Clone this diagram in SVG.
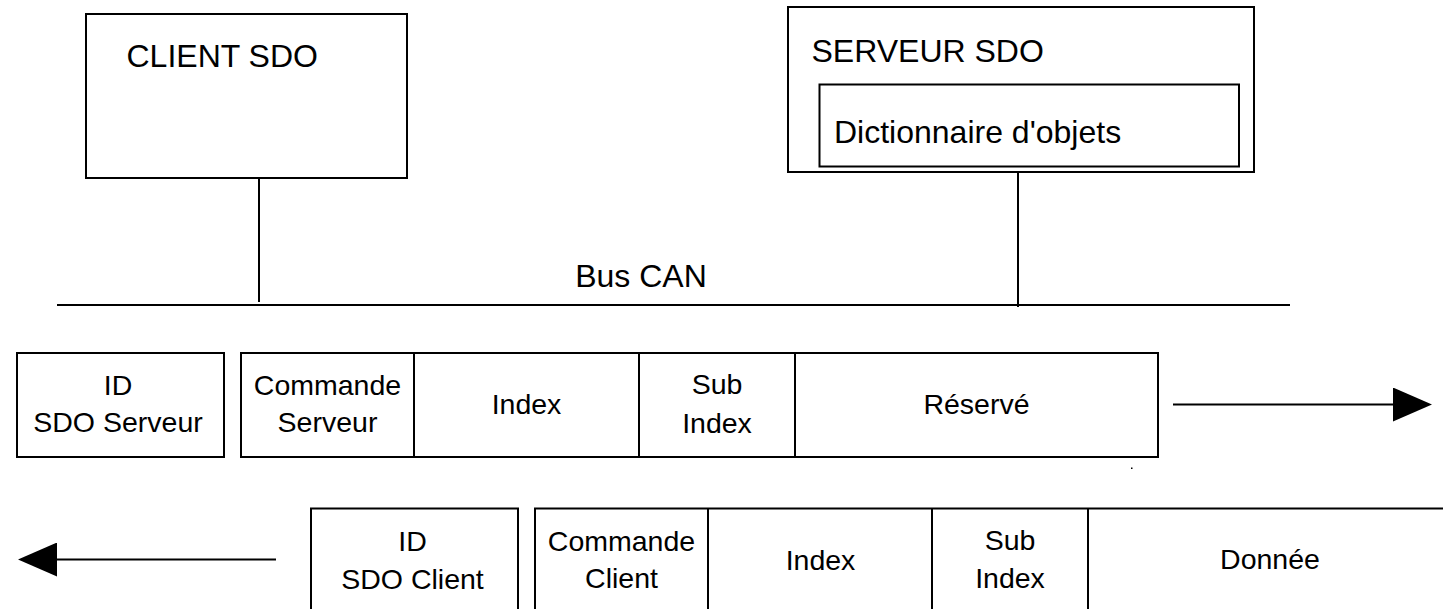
<svg xmlns="http://www.w3.org/2000/svg" width="1443" height="609" viewBox="0 0 1443 609">
  <style>
    .box { fill: #ffffff; stroke: #000000; stroke-width: 2; }
    .wire { fill: none; stroke: #000000; stroke-width: 2; }
    .title { font-family: "Liberation Sans", Arial, sans-serif; font-size: 32px; fill: #000000; }
    .field { font-family: "Liberation Sans", Arial, sans-serif; font-size: 28.5px; fill: #000000; text-anchor: middle; }
  </style>
  <defs>
    <marker id="arrowhead" viewBox="0 0 39 34" markerWidth="39" markerHeight="34" refX="0" refY="17" orient="auto" markerUnits="userSpaceOnUse">
      <path d="M0,0 L39,17 L0,34 Z" fill="#000000"/>
    </marker>
  </defs>
  <rect x="0" y="0" width="1443" height="609" fill="#ffffff"/>

  <!-- SDO client node -->
  <g id="client-sdo">
    <rect class="box" x="86" y="14" width="321" height="164"/>
    <text class="title" x="126.5" y="67">CLIENT SDO</text>
  </g>

  <!-- SDO server node with its object dictionary -->
  <g id="serveur-sdo">
    <rect class="box" x="788" y="7" width="466" height="165"/>
    <text class="title" x="811.5" y="62">SERVEUR SDO</text>
    <g id="dictionnaire">
      <rect class="box" x="819.5" y="84.5" width="419.5" height="82"/>
      <text class="title" x="834" y="143">Dictionnaire d'objets</text>
    </g>
  </g>

  <!-- CAN bus -->
  <g id="bus-can">
    <line class="wire" x1="57" y1="305" x2="1290" y2="305"/>
    <text class="title" x="641" y="287" text-anchor="middle">Bus CAN</text>
  </g>

  <!-- Request frame: server ID then data field -->
  <g id="trame-serveur">
    <g id="id-serveur">
      <rect class="box" x="17" y="353" width="207" height="104"/>
      <text class="field" x="118" y="395">ID</text>
      <text class="field" x="118" y="432">SDO Serveur</text>
    </g>
    <g id="donnees-serveur">
      <rect class="box" x="241" y="353" width="917" height="104"/>
      <line class="wire" x1="414" y1="353" x2="414" y2="457"/>
      <line class="wire" x1="639" y1="353" x2="639" y2="457"/>
      <line class="wire" x1="795" y1="353" x2="795" y2="457"/>
      <text class="field" x="327.5" y="395">Commande</text>
      <text class="field" x="327.5" y="432">Serveur</text>
      <text class="field" x="526.5" y="414">Index</text>
      <text class="field" x="717" y="394">Sub</text>
      <text class="field" x="717" y="432.5">Index</text>
      <text class="field" x="976.5" y="414">Réservé</text>
    </g>
  </g>

  <!-- Response frame: client ID then data field (runs past the right edge) -->
  <g id="trame-client">
    <g id="id-client">
      <rect class="box" x="311" y="508.5" width="207" height="104"/>
      <text class="field" x="412.5" y="551">ID</text>
      <text class="field" x="412.5" y="589">SDO Client</text>
    </g>
    <g id="donnees-client">
      <rect class="box" x="535" y="508.5" width="917" height="104"/>
      <line class="wire" x1="708" y1="508.5" x2="708" y2="612.5"/>
      <line class="wire" x1="932" y1="508.5" x2="932" y2="612.5"/>
      <line class="wire" x1="1088" y1="508.5" x2="1088" y2="612.5"/>
      <text class="field" x="621.5" y="551">Commande</text>
      <text class="field" x="621.5" y="588">Client</text>
      <text class="field" x="820.5" y="570">Index</text>
      <text class="field" x="1010" y="550">Sub</text>
      <text class="field" x="1010" y="588">Index</text>
      <text class="field" x="1270" y="569">Donnée</text>
    </g>
  </g>

  <!-- Connectors: bus drops and frame direction arrows -->
  <g id="connecteurs">
    <line class="wire" x1="259" y1="178" x2="259" y2="302"/>
    <line class="wire" x1="1018" y1="171" x2="1018" y2="307"/>
    <line class="wire" x1="1173" y1="404.5" x2="1393" y2="404.5" marker-end="url(#arrowhead)"/>
    <line class="wire" x1="276" y1="559.5" x2="57" y2="559.5" marker-end="url(#arrowhead)"/>
  </g>

  <rect x="1131" y="467.5" width="1.5" height="1.5" fill="#000000"/>
</svg>
